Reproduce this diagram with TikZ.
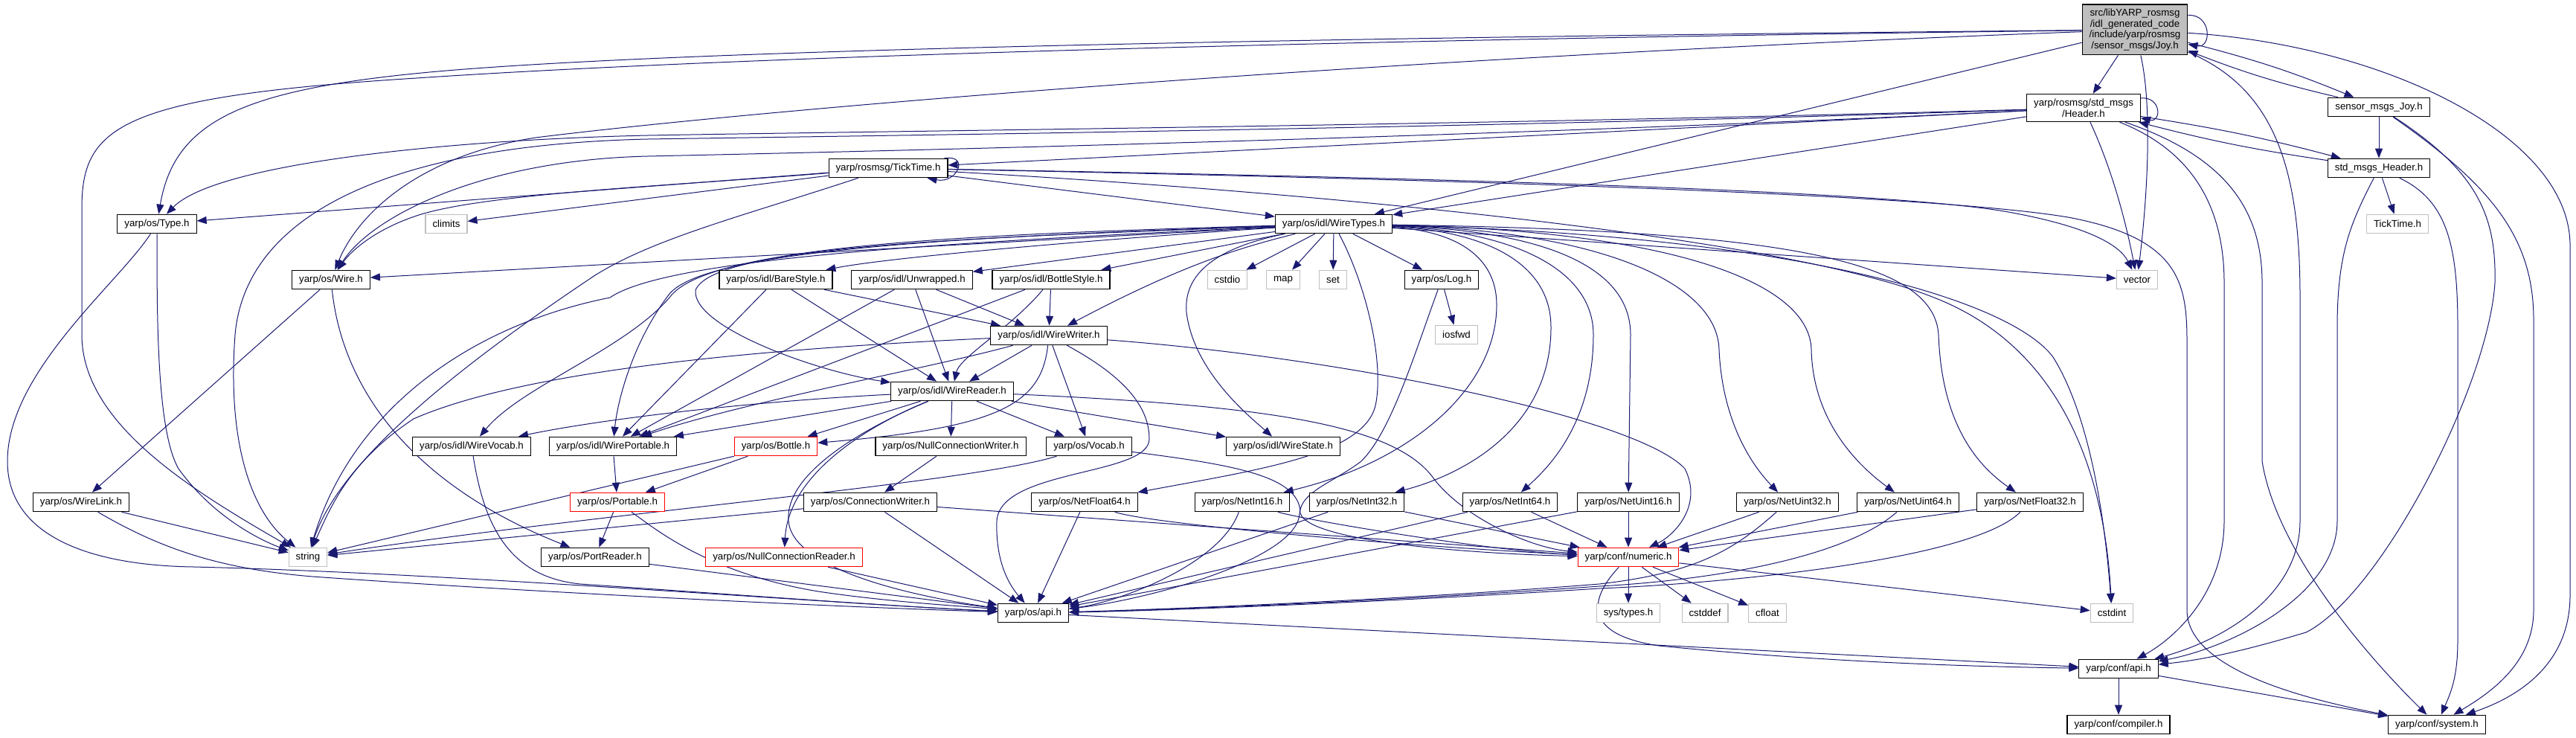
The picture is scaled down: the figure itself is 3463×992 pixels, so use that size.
\documentclass[tikz,border=0pt]{standalone}
\usepackage{fontspec}
\setmainfont{Liberation Sans}
\usetikzlibrary{arrows.meta}
\pgfdeclarelayer{bg}
\pgfsetlayers{bg,main}
\definecolor{eblue}{HTML}{191970}
\definecolor{gfill}{HTML}{BFBFBF}
\definecolor{gline}{HTML}{BFBFBF}
\definecolor{rline}{HTML}{FF0000}
\begin{document}
\begin{tikzpicture}[x=1pt,y=-1pt,
 nbox/.style={draw=black,fill=white,line width=1.1pt,font=\fontsize{13.3}{14.5}\selectfont,inner xsep=9.5pt,inner ysep=0pt,minimum height=25.5pt,align=center},
 sysbox/.style={nbox,draw=gline},
 redbox/.style={nbox,draw=rline},
 ml/.style={inner ysep=6.5pt},
 mainbox/.style={nbox,fill=gfill,inner ysep=6pt},
 ed/.style={draw=eblue,line width=1pt,-{Triangle[length=13pt,width=10pt]}}]
\useasboundingbox (0,0) rectangle (3463,992);
% nodes
\node[mainbox] (joy) at (2870,40) {src/libYARP\_rosmsg\\/idl\_generated\_code\\/include/yarp/rosmsg\\/sensor\_msgs/Joy.h};
\node[nbox,ml] (header) at (2801,145) {yarp/rosmsg/std\_msgs\\/Header.h};
\node[nbox] (sjoy) at (3198,144) {sensor\_msgs\_Joy.h};
\node[nbox] (stdh) at (3198,226) {std\_msgs\_Header.h};
\node[nbox] (tt) at (1194,226) {yarp/rosmsg/TickTime.h};
\node[nbox] (type) at (211,301) {yarp/os/Type.h};
\node[sysbox] (climits) at (600,301) {climits};
\node[nbox] (wt) at (1793,301) {yarp/os/idl/WireTypes.h};
\node[sysbox] (ttg) at (3223,301) {TickTime.h};
\node[nbox] (wire) at (445,376) {yarp/os/Wire.h};
\node[nbox] (bare) at (1043,376) {yarp/os/idl/BareStyle.h};
\node[nbox] (unwr) at (1226,376) {yarp/os/idl/Unwrapped.h};
\node[nbox] (bstyle) at (1413,376) {yarp/os/idl/BottleStyle.h};
\node[sysbox] (cstdio) at (1650,376) {cstdio};
\node[sysbox] (map) at (1725,376) {map};
\node[sysbox] (set) at (1792,376) {set};
\node[nbox] (log) at (1938,376) {yarp/os/Log.h};
\node[sysbox] (vector) at (2873,376) {vector};
\node[nbox] (ww) at (1410,451) {yarp/os/idl/WireWriter.h};
\node[sysbox] (iosfwd) at (1958,450) {iosfwd};
\node[nbox] (wr) at (1280,526) {yarp/os/idl/WireReader.h};
\node[nbox] (wvocab) at (634,600) {yarp/os/idl/WireVocab.h};
\node[nbox] (wport) at (824,600) {yarp/os/idl/WirePortable.h};
\node[redbox] (bottle) at (1043,600) {yarp/os/Bottle.h};
\node[nbox] (ncw) at (1278,600) {yarp/os/NullConnectionWriter.h};
\node[nbox] (vocab) at (1464,600) {yarp/os/Vocab.h};
\node[nbox] (wstate) at (1725,600) {yarp/os/idl/WireState.h};
\node[nbox] (wlink) at (109,675) {yarp/os/WireLink.h};
\node[redbox] (portable) at (830,675) {yarp/os/Portable.h};
\node[nbox] (cw) at (1170,675) {yarp/os/ConnectionWriter.h};
\node[nbox] (nf64) at (1458,675) {yarp/os/NetFloat64.h};
\node[nbox] (ni16) at (1670,675) {yarp/os/NetInt16.h};
\node[nbox] (ni32) at (1824,675) {yarp/os/NetInt32.h};
\node[nbox] (ni64) at (2030,675) {yarp/os/NetInt64.h};
\node[nbox] (nu16) at (2189,675) {yarp/os/NetUint16.h};
\node[nbox] (nu32) at (2403,675) {yarp/os/NetUint32.h};
\node[nbox] (nu64) at (2565,675) {yarp/os/NetUint64.h};
\node[nbox] (nf32) at (2729,675) {yarp/os/NetFloat32.h};
\node[sysbox] (string) at (414,749) {string};
\node[nbox] (preader) at (800,749) {yarp/os/PortReader.h};
\node[redbox] (ncr) at (1054,749) {yarp/os/NullConnectionReader.h};
\node[redbox] (numeric) at (2189,749) {yarp/conf/numeric.h};
\node[nbox] (osapi) at (1389,824) {yarp/os/api.h};
\node[sysbox] (systypes) at (2189,824) {sys/types.h};
\node[sysbox] (cstddef) at (2292,824) {cstddef};
\node[sysbox] (cfloat) at (2376,824) {cfloat};
\node[sysbox] (cstdint) at (2839,824) {cstdint};
\node[nbox] (confapi) at (2848,899) {yarp/conf/api.h};
\node[nbox] (compiler) at (2848,974) {yarp/conf/compiler.h};
\node[nbox] (system) at (3276,974) {yarp/conf/system.h};
\begin{pgfonlayer}{bg}
\fill[white] (0,0) rectangle (3463,992);
% Joy
\draw[ed] ([yshift=-15pt]joy.north east) .. controls +(32,-2) and +(32,6) .. ([yshift=-54pt]joy.north east);
\draw[ed] (joy) -- (header);
\draw[ed] (joy) to[bend left=4] (sjoy);
\draw[ed] (sjoy) to[bend left=4] (joy);
\draw[ed] (joy) -- (wt);
\draw[ed] (joy) .. controls (1600,52) and (900,70) .. (600,95) .. controls (330,118) and (235,160) .. (type);
\draw[ed] (joy) .. controls (1600,56) and (900,82) .. (560,105) .. controls (160,130) and (110,170) .. (110,280) -- (110,450) .. controls (110,570) and (260,660) .. (string);
\draw[ed] (joy) .. controls (1800,80) and (1000,150) .. (720,185) .. controls (560,210) and (480,290) .. (wire);
\draw[ed] (joy) .. controls (2895,150) and (2885,280) .. (vector);
\draw[ed] (joy) .. controls (3060,120) and (3092,230) .. (3092,400) -- (3092,700) .. controls (3092,800) and (2990,860) .. (confapi);
\draw[ed] (joy) .. controls (3200,60) and (3455,180) .. (3455,330) -- (3455,800) .. controls (3455,890) and (3390,935) .. (system);
% sensor_msgs_Joy
\draw[ed] (sjoy) -- (stdh);
\draw[ed] (sjoy) .. controls (3330,230) and (3356,290) .. (3354,380) .. controls (3345,520) and (3200,800) .. (3100,850) .. controls (3000,880) and (2950,888) .. (confapi);
\draw[ed] (sjoy) .. controls (3350,250) and (3406,320) .. (3406,430) -- (3406,820) .. controls (3406,890) and (3350,930) .. (system);
% Header
\draw[ed] ([yshift=-6pt]header.north east) .. controls +(28,-2) and +(28,6) .. ([yshift=-33pt]header.north east);
\draw[ed] (header) -- (tt);
\draw[ed] (header) -- (wt);
\draw[ed] (header) .. controls (2000,168) and (1200,176) .. (871,182) .. controls (600,188) and (290,220) .. (type);
\draw[ed] (header) .. controls (2000,172) and (1200,182) .. (871,187) .. controls (520,195) and (330,290) .. (316,450) .. controls (305,600) and (340,690) .. (string);
\draw[ed] (header) .. controls (2000,185) and (1100,205) .. (871,210) .. controls (650,215) and (500,290) .. (wire);
\draw[ed] (header) .. controls (2845,240) and (2862,320) .. (vector);
\draw[ed] (header) .. controls (2940,200) and (2990,270) .. (2990,380) -- (2990,700) .. controls (2990,800) and (2920,860) .. (confapi);
\draw[ed] (header) .. controls (2990,210) and (3041,280) .. (3041,380) -- (3041,620) .. controls (3060,740) and (3180,880) .. (system);
\draw[ed] (header) to[bend left=3] (stdh);
\draw[ed] (stdh) to[bend left=3] (header);
% std_msgs_Header
\draw[ed] (stdh) -- (ttg);
\draw[ed] (stdh) .. controls (3160,300) and (3142,340) .. (3142,440) -- (3142,700) .. controls (3142,800) and (3000,870) .. (confapi);
\draw[ed] (stdh) .. controls (3290,270) and (3304,330) .. (3304,440) -- (3304,860) .. controls (3304,910) and (3295,930) .. (system);
% TickTime
\draw[ed] ([xshift=-5pt]tt.north east) .. controls +(35,-5) and +(40,8) .. ([xshift=-28pt]tt.south east);
\draw[ed] (tt) -- (wt);
\draw[ed] (tt) -- (type);
\draw[ed] (tt) -- (climits);
\draw[ed] (tt) .. controls (900,250) and (650,260) .. (560,290) .. controls (500,310) and (470,340) .. (wire);
\draw[ed] (tt) .. controls (1000,290) and (880,320) .. (800,370) .. controls (560,530) and (450,640) .. (string);
\draw[ed] (tt) .. controls (2000,240) and (2550,258) .. (2700,285) .. controls (2810,305) and (2850,330) .. (vector);
\draw[ed] (tt) .. controls (2000,242) and (2600,262) .. (2780,292) .. controls (2930,320) and (2940,380) .. (2940,460) -- (2940,820) .. controls (2940,900) and (3100,940) .. (system);
\draw[ed] (tt) .. controls (1800,260) and (2400,320) .. (2600,400) .. controls (2780,470) and (2830,650) .. (cstdint);
% WireTypes
\draw[ed] (wt) -- (wire);
\draw[ed] (wt) .. controls (1300,325) and (900,345) .. (820,400) .. controls (620,440) and (470,560) .. (string);
\draw[ed] (wt) .. controls (1500,320) and (1200,345) .. (bare);
\draw[ed] (wt) -- (unwr);
\draw[ed] (wt) -- (bstyle);
\draw[ed] (wt) -- (cstdio);
\draw[ed] (wt) -- (map);
\draw[ed] (wt) -- (set);
\draw[ed] (wt) -- (log);
\draw[ed] (wt) -- (vector);
\draw[ed] (wt) .. controls (1680,330) and (1600,350) .. (ww);
\draw[ed] (wt) .. controls (1300,320) and (960,330) .. (935,390) .. controls (930,440) and (1100,500) .. (wr);
\draw[ed] (wt) .. controls (1300,315) and (950,330) .. (900,400) .. controls (840,470) and (700,520) .. (wvocab);
\draw[ed] (wt) .. controls (1300,318) and (950,335) .. (900,395) .. controls (850,460) and (830,540) .. (wport);
\draw[ed] (wt) .. controls (1650,330) and (1590,360) .. (1595,420) .. controls (1605,500) and (1680,560) .. (wstate);
\draw[ed] (wt) .. controls (1835,380) and (1860,480) .. (1850,540) .. controls (1840,610) and (1700,630) .. (nf64);
\draw[ed] (wt) .. controls (1950,310) and (2012,340) .. (2012,410) .. controls (2012,520) and (1900,620) .. (ni16);
\draw[ed] (wt) .. controls (1990,310) and (2085,350) .. (2085,440) .. controls (2085,580) and (1960,640) .. (ni32);
\draw[ed] (wt) .. controls (2030,310) and (2142,360) .. (2142,450) .. controls (2142,570) and (2080,630) .. (ni64);
\draw[ed] (wt) .. controls (2080,310) and (2192,360) .. (2192,450) -- (nu16);
\draw[ed] (wt) .. controls (2150,310) and (2309,380) .. (2311,470) .. controls (2315,560) and (2350,620) .. (nu32);
\draw[ed] (wt) .. controls (2250,310) and (2433,380) .. (2435,470) .. controls (2437,560) and (2490,620) .. (nu64);
\draw[ed] (wt) .. controls (2400,310) and (2600,350) .. (2606,450) .. controls (2610,560) and (2650,620) .. (nf32);
\draw[ed] (wt) .. controls (2400,315) and (2700,400) .. (2760,480) .. controls (2810,560) and (2830,700) .. (cstdint);
% style headers
\draw[ed] (bare) -- (wport);
\draw[ed] (bare) -- (wr);
\draw[ed] (bare) -- (ww);
\draw[ed] (unwr) -- (wport);
\draw[ed] (unwr) -- (wr);
\draw[ed] (unwr) -- (ww);
\draw[ed] (bstyle) -- (wport);
\draw[ed] (bstyle) .. controls (1360,440) and (1290,480) .. (wr);
\draw[ed] (bstyle) -- (ww);
% WireWriter
\draw[ed] (ww) -- (wr);
\draw[ed] (ww) -- (vocab);
\draw[ed] (ww) .. controls (1400,545) and (1340,575) .. (bottle);
\draw[ed] (ww) .. controls (1250,495) and (1000,540) .. (wport);
\draw[ed] (ww) .. controls (1000,470) and (700,500) .. (556,563) .. controls (470,620) and (445,680) .. (string);
\draw[ed] (ww) .. controls (1800,480) and (2200,560) .. (2265,630) .. controls (2290,680) and (2250,720) .. (numeric);
\draw[ed] (ww) .. controls (1500,500) and (1545,540) .. (1545,590) .. controls (1545,640) and (1345,630) .. (1340,700) .. controls (1338,760) and (1360,790) .. (osapi);
% WireReader
\draw[ed] (wr) -- (wport);
\draw[ed] (wr) .. controls (1000,540) and (800,565) .. (wvocab);
\draw[ed] (wr) -- (bottle);
\draw[ed] (wr) -- (ncw);
\draw[ed] (wr) -- (vocab);
\draw[ed] (wr) -- (wstate);
\draw[ed] (wr) .. controls (1700,545) and (1870,570) .. (1925,640) .. controls (1960,690) and (2050,735) .. (numeric);
\draw[ed] (wr) .. controls (1160,575) and (1060,640) .. (ncr);
\draw[ed] (wr) .. controls (1150,580) and (1055,640) .. (1060,700) .. controls (1065,770) and (1250,805) .. (osapi);
% Wire, Type, WireLink
\draw[ed] (wire) -- (wlink);
\draw[ed] (wire) .. controls (460,520) and (550,650) .. (preader);
\draw[ed] (type) .. controls (211,430) and (211,580) .. (240,630) .. controls (290,700) and (360,730) .. (string);
\draw[ed] (type) .. controls (160,380) and (10,500) .. (10,620) .. controls (10,720) and (120,760) .. (260,762) .. controls (600,770) and (1100,810) .. (osapi);
\draw[ed] (wlink) -- (string);
\draw[ed] (wlink) .. controls (220,740) and (300,765) .. (420,775) .. controls (700,795) and (1100,815) .. (osapi);
\draw[ed] (wvocab) .. controls (650,700) and (680,775) .. (780,785) .. controls (1000,800) and (1200,815) .. (osapi);
\draw[ed] (wport) -- (portable);
% Portable etc.
\draw[ed] (portable) -- (preader);
\draw[ed] (portable) .. controls (880,710) and (950,770) .. (1100,795) .. controls (1200,810) and (1300,815) .. (osapi);
\draw[ed] (preader) -- (osapi);
\draw[ed] (ncr) -- (osapi);
\draw[ed] (cw) -- (osapi);
\draw[ed] (cw) -- (numeric);
\draw[ed] (cw) -- (string);
\draw[ed] (ncw) -- (cw);
\draw[ed] (bottle) -- (portable);
\draw[ed] (bottle) -- (string);
\draw[ed] (vocab) .. controls (1300,650) and (800,690) .. (string);
\draw[ed] (vocab) .. controls (1660,625) and (1748,640) .. (1748,690) .. controls (1760,730) and (2000,745) .. (numeric);
% Log
\draw[ed] (log) -- (iosfwd);
\draw[ed] (log) .. controls (1900,480) and (1870,580) .. (1830,620) .. controls (1790,650) and (1750,660) .. (1747,690) .. controls (1745,750) and (1550,805) .. (osapi);
% Net types
\draw[ed] (nf64) -- (osapi);
\draw[ed] (nf64) .. controls (1550,705) and (1900,735) .. (numeric);
\draw[ed] (ni16) .. controls (1760,700) and (2000,740) .. (numeric);
\draw[ed] (ni16) .. controls (1640,760) and (1500,810) .. (osapi);
\draw[ed] (ni32) -- (numeric);
\draw[ed] (ni32) -- (osapi);
\draw[ed] (ni64) -- (numeric);
\draw[ed] (ni64) -- (osapi);
\draw[ed] (nu16) -- (numeric);
\draw[ed] (nu16) -- (osapi);
\draw[ed] (nu32) -- (numeric);
\draw[ed] (nu32) .. controls (2330,740) and (2280,770) .. (2150,785) .. controls (1900,805) and (1600,818) .. (osapi);
\draw[ed] (nu64) -- (numeric);
\draw[ed] (nu64) .. controls (2480,750) and (2300,780) .. (2150,788) .. controls (1900,806) and (1600,819) .. (osapi);
\draw[ed] (nf32) -- (numeric);
\draw[ed] (nf32) .. controls (2650,755) and (2300,785) .. (2150,791) .. controls (1900,807) and (1600,820) .. (osapi);
% numeric
\draw[ed] (numeric) -- (systypes);
\draw[ed] (numeric) -- (cstddef);
\draw[ed] (numeric) -- (cfloat);
\draw[ed] (numeric) -- (cstdint);
\draw[ed] (numeric) .. controls (2150,790) and (2110,850) .. (2230,868) .. controls (2450,890) and (2650,896) .. (confapi);
% api
\draw[ed] (osapi) -- (confapi);
\draw[ed] (confapi) -- (compiler);
\draw[ed] (confapi) -- (system);
\end{pgfonlayer}
\end{tikzpicture}
\end{document}
